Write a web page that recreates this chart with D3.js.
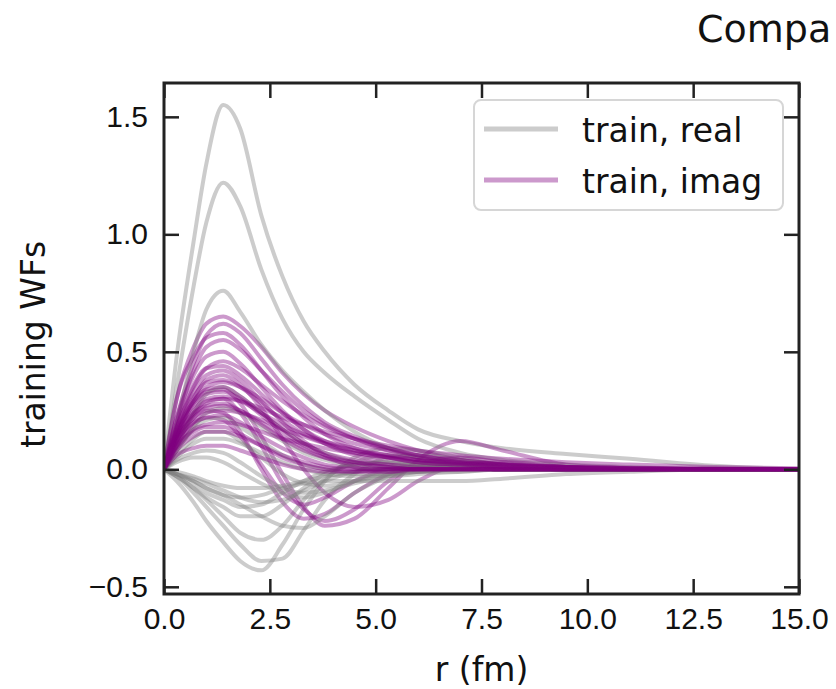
<!DOCTYPE html>
<html>
<head>
<meta charset="utf-8">
<script src="https://cdn.jsdelivr.net/npm/d3@7"></script>
<style>
  body { margin: 0; background: #fff; }
  svg { display: block; font-family: "DejaVu Sans", sans-serif; }
</style>
</head>
<body>
<svg id="chart" width="836" height="689"></svg>
<script>
// radial grid (fm) shared by every wave function
const rGrid = [0, 0.3, 0.7, 1.0, 1.4, 1.8, 2.3, 2.8, 3.3, 3.8, 4.5, 5.3, 6.0, 7.0, 8.0, 9.5, 11, 13, 15];

// real parts of the training wave functions
const realWFs = [
  [0, 0.48, 0.97, 1.30, 1.55, 1.45, 1.08, 0.82, 0.63, 0.50, 0.36, 0.25, 0.17, 0.12, 0.09, 0.065, 0.045, 0.015, 0],
  [0, -0.05, -0.14, -0.22, -0.31, -0.39, -0.43, -0.32, -0.17, -0.05, 0.05, 0.09, 0.08, 0.05, 0.02, 0.01, 0, 0, 0],
  [0, 0.35, 0.78, 1.05, 1.22, 1.12, 0.85, 0.64, 0.50, 0.41, 0.31, 0.21, 0.13, 0.07, 0.04, 0.02, 0.01, 0, 0],
  [0, -0.03, -0.10, -0.16, -0.24, -0.32, -0.39, -0.38, -0.26, -0.13, -0.02, 0.05, 0.06, 0.04, 0.02, 0, 0, 0, 0],
  [0, 0.20, 0.50, 0.68, 0.76, 0.67, 0.53, 0.42, 0.33, 0.25, 0.16, 0.09, 0.05, 0.02, 0.01, 0, 0, 0, 0],
  [0, -0.03, -0.08, -0.13, -0.20, -0.27, -0.30, -0.24, -0.13, -0.04, 0.03, 0.06, 0.05, 0.03, 0.01, 0, 0, 0, 0],
  [0, 0.10, 0.24, 0.32, 0.35, 0.31, 0.24, 0.17, 0.11, 0.07, 0.03, 0.01, 0, 0, 0, 0, 0, 0, 0],
  [0, -0.02, -0.05, -0.08, -0.11, -0.15, -0.20, -0.24, -0.25, -0.20, -0.10, -0.03, 0.01, 0.02, 0.01, 0, 0, 0, 0],
  [0, 0.08, 0.17, 0.21, 0.22, 0.18, 0.12, 0.06, 0.02, 0, -0.02, -0.02, -0.01, 0, 0, 0, 0, 0, 0],
  [0, -0.02, -0.06, -0.10, -0.13, -0.16, -0.15, -0.10, -0.05, -0.01, 0.02, 0.03, 0.02, 0.01, 0, 0, 0, 0, 0],
  [0, 0.06, 0.13, 0.16, 0.16, 0.12, 0.05, -0.02, -0.06, -0.07, -0.05, -0.02, 0, 0.01, 0, 0, 0, 0, 0],
  [0, -0.02, -0.05, -0.08, -0.11, -0.12, -0.11, -0.08, -0.06, -0.05, -0.05, -0.05, -0.05, -0.05, -0.04, -0.02, -0.01, 0, 0],
  [0, 0.04, 0.07, 0.08, 0.07, 0.03, -0.03, -0.08, -0.10, -0.09, -0.06, -0.03, -0.01, 0, 0, 0, 0, 0, 0],
  [0, -0.01, -0.03, -0.05, -0.07, -0.08, -0.08, -0.07, -0.05, -0.03, -0.01, 0, 0.01, 0.01, 0, 0, 0, 0, 0],
  [0, 0.08, 0.18, 0.24, 0.26, 0.24, 0.18, 0.12, 0.07, 0.04, 0.01, 0, -0.01, -0.01, 0, 0, 0, 0, 0],
  [0, -0.03, -0.08, -0.12, -0.16, -0.20, -0.20, -0.15, -0.08, -0.02, 0.02, 0.03, 0.03, 0.02, 0.01, 0, 0, 0, 0],
  [0, -0.02, -0.04, -0.06, -0.09, -0.12, -0.14, -0.13, -0.09, -0.05, -0.01, 0.01, 0.02, 0.01, 0, 0, 0, 0, 0],
  [0, 0.03, 0.05, 0.05, 0.03, -0.01, -0.06, -0.10, -0.12, -0.10, -0.05, -0.01, 0.01, 0.01, 0, 0, 0, 0, 0],
  [0, 0.05, 0.11, 0.13, 0.13, 0.11, 0.07, 0.03, 0, -0.02, -0.03, -0.03, -0.02, -0.01, 0, 0, 0, 0, 0]
];

// imaginary parts of the training wave functions
const imagWFs = [
  [0, 0.30, 0.52, 0.62, 0.65, 0.61, 0.52, 0.41, 0.32, 0.25, 0.18, 0.12, 0.08, 0.04, 0.02, 0.008, 0.003, 0, 0],
  [0, 0.14, 0.28, 0.33, 0.34, 0.28, 0.14, -0.02, -0.16, -0.24, -0.21, -0.08, 0.04, 0.12, 0.08, 0.02, 0.005, 0, 0],
  [0, 0.22, 0.45, 0.57, 0.62, 0.58, 0.47, 0.36, 0.27, 0.20, 0.14, 0.09, 0.06, 0.03, 0.015, 0.005, 0, 0, 0],
  [0, 0.12, 0.24, 0.29, 0.30, 0.24, 0.10, -0.06, -0.17, -0.22, -0.17, -0.05, 0.02, 0.05, 0.03, 0.01, 0, 0, 0],
  [0, 0.30, 0.48, 0.56, 0.58, 0.53, 0.42, 0.31, 0.22, 0.15, 0.09, 0.05, 0.03, 0.01, 0, 0, 0, 0, 0],
  [0, 0.13, 0.22, 0.25, 0.24, 0.16, 0.00, -0.14, -0.21, -0.19, -0.10, -0.02, 0.01, 0.01, 0, 0, 0, 0, 0],
  [0, 0.20, 0.42, 0.52, 0.55, 0.51, 0.42, 0.33, 0.25, 0.19, 0.13, 0.08, 0.05, 0.025, 0.01, 0.005, 0, 0, 0],
  [0, 0.10, 0.19, 0.22, 0.21, 0.14, 0.02, -0.10, -0.15, -0.12, -0.05, 0, 0.01, 0.01, 0, 0, 0, 0, 0],
  [0, 0.22, 0.40, 0.48, 0.50, 0.45, 0.35, 0.25, 0.17, 0.11, 0.06, 0.03, 0.015, 0.005, 0, 0, 0, 0, 0],
  [0, 0.14, 0.30, 0.38, 0.40, 0.36, 0.26, 0.13, 0.00, -0.10, -0.16, -0.13, -0.05, 0.02, 0.03, 0.01, 0, 0, 0],
  [0, 0.17, 0.35, 0.43, 0.46, 0.43, 0.36, 0.29, 0.23, 0.18, 0.13, 0.09, 0.06, 0.04, 0.02, 0.01, 0.005, 0.002, 0],
  [0, 0.18, 0.33, 0.40, 0.42, 0.38, 0.29, 0.20, 0.12, 0.06, 0.01, -0.01, -0.01, 0, 0, 0, 0, 0, 0],
  [0, 0.15, 0.29, 0.35, 0.37, 0.35, 0.30, 0.24, 0.19, 0.15, 0.11, 0.08, 0.06, 0.03, 0.02, 0.01, 0.005, 0, 0],
  [0, 0.16, 0.29, 0.34, 0.35, 0.31, 0.24, 0.17, 0.11, 0.07, 0.04, 0.02, 0.01, 0.01, 0, 0, 0, 0, 0],
  [0, 0.13, 0.25, 0.30, 0.31, 0.29, 0.24, 0.19, 0.15, 0.12, 0.09, 0.06, 0.04, 0.02, 0.01, 0.005, 0, 0, 0],
  [0, 0.14, 0.24, 0.27, 0.28, 0.25, 0.19, 0.13, 0.08, 0.05, 0.03, 0.02, 0.01, 0.005, 0, 0, 0, 0, 0],
  [0, 0.10, 0.20, 0.24, 0.25, 0.24, 0.21, 0.17, 0.14, 0.11, 0.08, 0.06, 0.04, 0.03, 0.02, 0.01, 0.005, 0.002, 0],
  [0, 0.12, 0.20, 0.22, 0.23, 0.20, 0.14, 0.09, 0.05, 0.02, 0.005, 0, 0, 0, 0, 0, 0, 0, 0],
  [0, 0.09, 0.17, 0.19, 0.20, 0.19, 0.16, 0.13, 0.11, 0.09, 0.07, 0.05, 0.04, 0.025, 0.015, 0.01, 0.005, 0.002, 0],
  [0, 0.12, 0.23, 0.28, 0.30, 0.29, 0.26, 0.22, 0.19, 0.16, 0.13, 0.10, 0.08, 0.06, 0.045, 0.03, 0.02, 0.01, 0.005],
  [0, 0.08, 0.14, 0.16, 0.16, 0.14, 0.10, 0.06, 0.03, 0.01, 0, 0, 0, 0, 0, 0, 0, 0, 0],
  [0, 0.06, 0.09, 0.10, 0.10, 0.08, 0.05, 0.02, 0, -0.01, -0.01, 0, 0, 0, 0, 0, 0, 0, 0],
  [0, 0.15, 0.27, 0.32, 0.33, 0.30, 0.23, 0.16, 0.10, 0.06, 0.03, 0.01, 0, 0, 0, 0, 0, 0, 0],
  [0, 0.16, 0.31, 0.37, 0.38, 0.35, 0.28, 0.21, 0.15, 0.11, 0.07, 0.05, 0.03, 0.02, 0.01, 0, 0, 0, 0],
  [0, 0.18, 0.36, 0.43, 0.44, 0.40, 0.32, 0.24, 0.17, 0.12, 0.08, 0.05, 0.03, 0.02, 0.01, 0, 0, 0, 0],
  [0, 0.10, 0.16, 0.18, 0.18, 0.15, 0.10, 0.05, 0.02, 0, -0.01, -0.01, 0, 0, 0, 0, 0, 0, 0],
  [0, 0.11, 0.22, 0.26, 0.27, 0.25, 0.20, 0.14, 0.09, 0.05, 0.02, 0.01, 0, 0, 0, 0, 0, 0, 0]
];

const xTicks = [0, 2.5, 5, 7.5, 10, 12.5, 15];
const yTicks = [-0.5, 0, 0.5, 1.0, 1.5];
const seriesNames = ["train, real", "train, imag"];
const seriesColors = ["#808080", "#800080"];
const xLabel = "r (fm)";
const yLabel = "training WFs";
const titleText = "Compa";

const svg = d3.select("#chart");
const frame = { left: 164, right: 799, top: 83, bottom: 594 };

const x = d3.scaleLinear().domain([0, 15]).range([frame.left, frame.right]);
const y = d3.scaleLinear().domain([-0.5306, 1.644]).range([frame.bottom, frame.top]);

svg.append("defs").append("clipPath").attr("id", "plot-clip")
  .append("rect")
  .attr("x", frame.left).attr("y", frame.top)
  .attr("width", frame.right - frame.left)
  .attr("height", frame.bottom - frame.top);

const line = d3.line()
  .x((d, i) => x(rGrid[i]))
  .y(d => y(d))
  .curve(d3.curveMonotoneX);

const curves = svg.append("g").attr("clip-path", "url(#plot-clip)");
const n = Math.max(realWFs.length, imagWFs.length);
for (let i = 0; i < n; i++) {
  if (realWFs[i]) {
    curves.append("path").datum(realWFs[i])
      .attr("d", line).attr("fill", "none")
      .attr("stroke", seriesColors[0]).attr("stroke-opacity", 0.4)
      .attr("stroke-width", 4).attr("stroke-linejoin", "round");
  }
  if (imagWFs[i]) {
    curves.append("path").datum(imagWFs[i])
      .attr("d", line).attr("fill", "none")
      .attr("stroke", seriesColors[1]).attr("stroke-opacity", 0.4)
      .attr("stroke-width", 4).attr("stroke-linejoin", "round");
  }
}

// axes with inward ticks on all four sides
const fmt = d3.format(".1f");
const tickLen = 15;
function styleAxis(g, fontSize) {
  g.select(".domain").remove();
  g.selectAll(".tick line").attr("stroke", "#222").attr("stroke-width", 2.5);
  g.selectAll(".tick text").attr("fill", "#111").style("font-size", fontSize + "px");
}

svg.append("g").attr("transform", `translate(0,${frame.bottom})`)
  .call(d3.axisBottom(x).tickValues(xTicks).tickFormat(fmt)
    .tickSizeInner(-tickLen).tickSizeOuter(0).tickPadding(14))
  .call(g => styleAxis(g, 30));

svg.append("g").attr("transform", `translate(0,${frame.top})`)
  .call(d3.axisTop(x).tickValues(xTicks).tickFormat("")
    .tickSizeInner(-tickLen).tickSizeOuter(0))
  .call(g => styleAxis(g, 30));

svg.append("g").attr("transform", `translate(${frame.left},0)`)
  .call(d3.axisLeft(y).tickValues(yTicks).tickFormat(fmt)
    .tickSizeInner(-tickLen).tickSizeOuter(0).tickPadding(16))
  .call(g => styleAxis(g, 30));

svg.append("g").attr("transform", `translate(${frame.right},0)`)
  .call(d3.axisRight(y).tickValues(yTicks).tickFormat("")
    .tickSizeInner(-tickLen).tickSizeOuter(0))
  .call(g => styleAxis(g, 30));

// plot frame
svg.append("rect")
  .attr("x", frame.left).attr("y", frame.top)
  .attr("width", frame.right - frame.left)
  .attr("height", frame.bottom - frame.top)
  .attr("fill", "none").attr("stroke", "#222").attr("stroke-width", 3);

// axis labels
svg.append("text")
  .attr("x", (frame.left + frame.right) / 2).attr("y", 681)
  .attr("text-anchor", "middle").attr("fill", "#111")
  .style("font-size", "33px").text(xLabel);

svg.append("text")
  .attr("transform", `translate(45,${(frame.top + frame.bottom) / 2 + 6}) rotate(-90)`)
  .attr("text-anchor", "middle").attr("fill", "#111")
  .style("font-size", "33px").text(yLabel);

// figure title
svg.append("text")
  .attr("x", 697).attr("y", 42)
  .attr("fill", "#111").style("font-size", "38px").text(titleText);

// legend
const legend = svg.append("g");
legend.append("rect")
  .attr("x", 474).attr("y", 100).attr("width", 309).attr("height", 110)
  .attr("rx", 7).attr("fill", "#fff").attr("fill-opacity", 0.8)
  .attr("stroke", "#d6d6d6").attr("stroke-width", 2);
seriesNames.forEach((name, i) => {
  const ly = 129 + i * 51;
  legend.append("line")
    .attr("x1", 484).attr("x2", 558).attr("y1", ly).attr("y2", ly)
    .attr("stroke", seriesColors[i]).attr("stroke-opacity", 0.4)
    .attr("stroke-width", 5);
  legend.append("text")
    .attr("x", 582).attr("y", ly + 13)
    .attr("fill", "#111").style("font-size", "33px").text(name);
});
</script>
</body>
</html>
